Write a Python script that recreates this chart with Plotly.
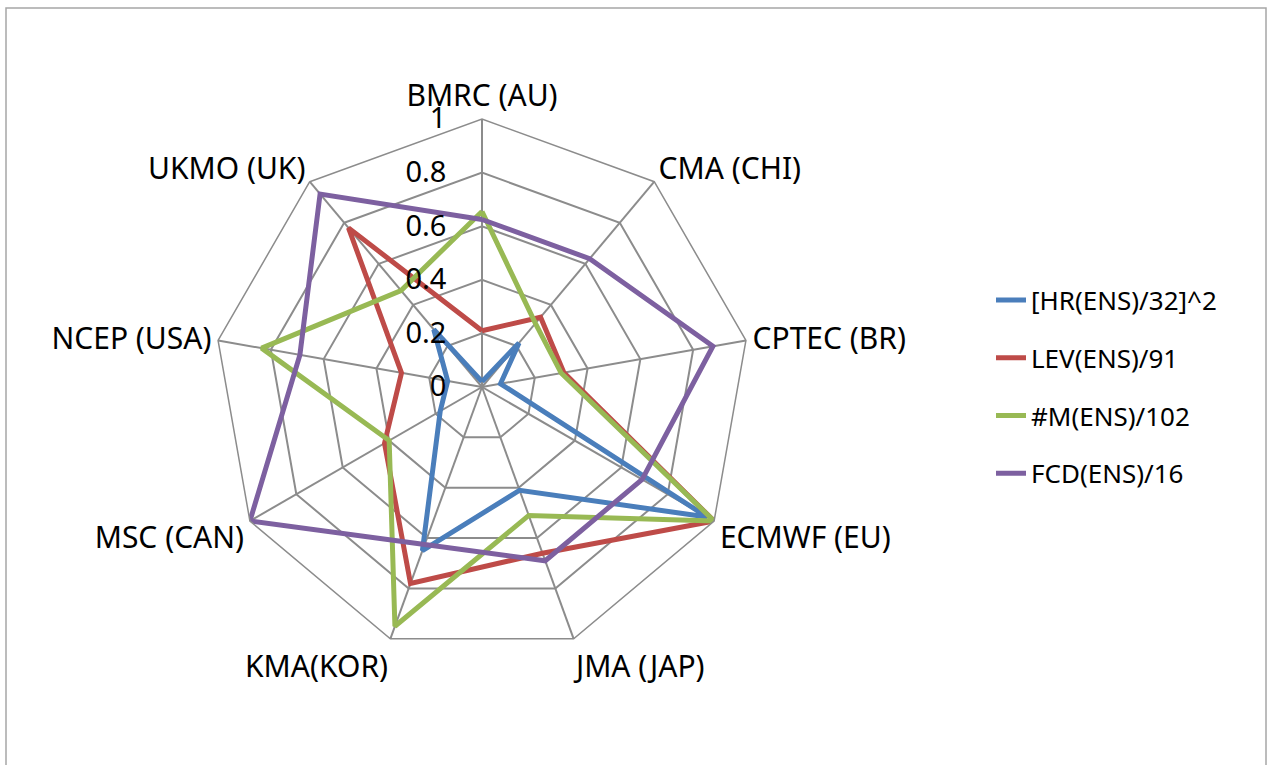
import plotly.graph_objects as go

categories = ["BMRC (AU)", "CMA (CHI)", "CPTEC (BR)", "ECMWF (EU)", "JMA (JAP)",
              "KMA(KOR)", "MSC (CAN)", "NCEP (USA)", "UKMO (UK)"]
hr_ens = [0.02, 0.215, 0.07, 0.97, 0.41, 0.65, 0.18, 0.13, 0.28]
lev_ens = [0.21, 0.34, 0.31, 1.0, 0.66, 0.78, 0.42, 0.305, 0.775]
m_ens = [0.655, 0.31, 0.30, 1.0, 0.51, 0.95, 0.40, 0.835, 0.47]
fcd_ens = [0.625, 0.625, 0.875, 0.69, 0.69, 0.625, 1.0, 0.69, 0.94]
series_names = ["[HR(ENS)/32]^2", "LEV(ENS)/91", "#M(ENS)/102", "FCD(ENS)/16"]
radial_ticks = [0, 0.2, 0.4, 0.6, 0.8, 1]
radial_tick_labels = ["0", "0.2", "0.4", "0.6", "0.8", "1"]

colors = ["#4A7EBB", "#BE4B48", "#98B954", "#7D60A0"]
FONT = "Noto Sans"

W, H = 1272, 765
cx, cy, R = 482, 387, 268

fig = go.Figure()
for i, (name, vals) in enumerate(zip(series_names, [hr_ens, lev_ens, m_ens, fcd_ens])):
    fig.add_trace(go.Scatterpolar(
        r=vals + vals[:1],
        theta=categories + categories[:1],
        mode="lines",
        name=name,
        legendgroup=f"g{i}",
        line=dict(color=colors[i], width=5),
    ))

fig.update_layout(
    width=W, height=H,
    margin=dict(l=0, r=0, t=0, b=0),
    paper_bgcolor="white",
    plot_bgcolor="white",
    font=dict(family=FONT, size=26, color="black"),
    polar=dict(
        domain=dict(x=[(cx - R) / W, (cx + R) / W], y=[1 - (cy + R) / H, 1 - (cy - R) / H]),
        gridshape="linear",
        bgcolor="white",
        radialaxis=dict(
            range=[0, 1],
            tickvals=radial_ticks,
            ticktext=radial_tick_labels,
            angle=90,
            side="counterclockwise",
            tickangle=90,
            showline=False,
            gridcolor="#8c8c8c",
            gridwidth=1.5,
            ticks="outside",
            ticklen=25,
            tickcolor="rgba(0,0,0,0)",
            tickfont=dict(family=FONT, size=29, color="black"),
        ),
        angularaxis=dict(
            rotation=90,
            direction="clockwise",
            categoryorder="array",
            categoryarray=categories,
            linecolor="#8c8c8c",
            linewidth=1.5,
            gridcolor="#8c8c8c",
            gridwidth=1.5,
            ticks="",
            tickfont=dict(family=FONT, size=30, color="black"),
        ),
    ),
    legend=dict(
        x=991 / W, y=1 - 387 / H, xanchor="left", yanchor="middle",
        font=dict(family=FONT, size=26, color="black"),
        tracegroupgap=21,
        traceorder="grouped",
        bgcolor="rgba(0,0,0,0)",
    ),
    shapes=[dict(
        type="rect", xref="paper", yref="paper",
        x0=6 / W, x1=1266 / W, y0=-0.05, y1=1 - 8 / H,
        line=dict(color="#a6a6a6", width=1.5),
    )],
)

fig.write_html("out.html", config={"displayModeBar": False},
               post_script="document.body.style.margin='0';")
